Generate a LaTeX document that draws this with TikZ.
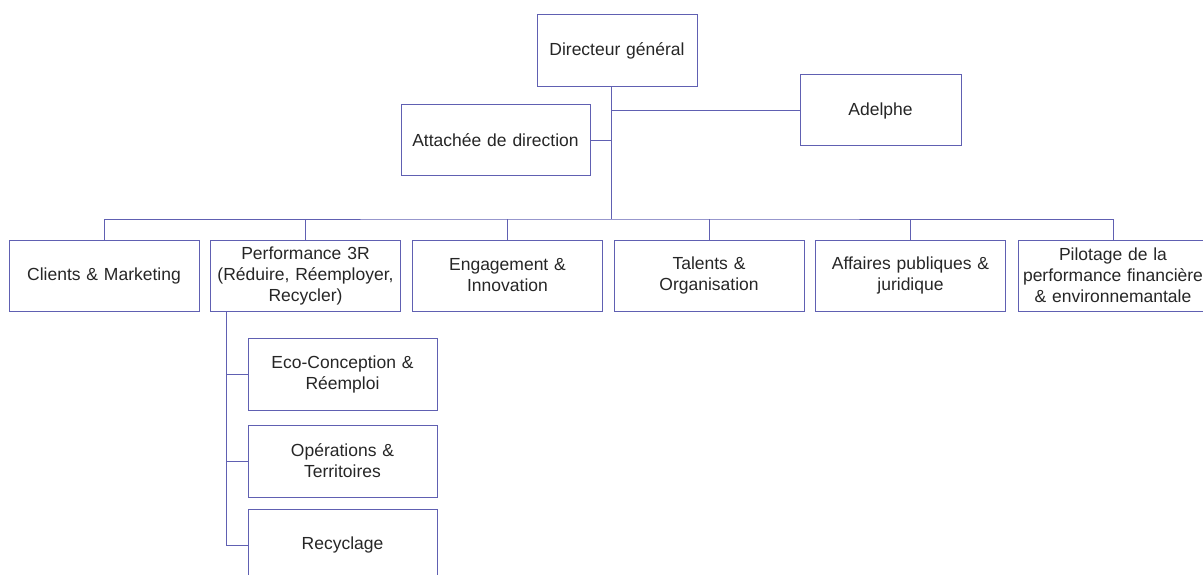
\documentclass[tikz,border=0pt]{standalone}
\usepackage{fontspec}
\setmainfont{Liberation Sans}
\definecolor{orgline}{RGB}{96,96,178}
\definecolor{orgtext}{RGB}{38,38,38}
\begin{document}
\begin{tikzpicture}
[x=1pt,y=-1pt,line width=1pt,
box/.style={draw=orgline,text=orgtext,align=center,inner sep=4pt,minimum height=71pt,
  font=\fontsize{17.5pt}{21pt}\selectfont},
unit/.style={box,text width=182pt},
link/.style={draw=orgline}]
\useasboundingbox (0,0) rectangle (1203,575);
% direction
\node[box,text width=152pt,minimum height=72pt] (dg) at (617,51) {Directeur général};
\node[box,text width=181pt] (att) at (495.5,140.5) {Attachée de direction};
\node[box,text width=153pt] (adelphe) at (880.5,110.5) {Adelphe};
% directions
\node[unit] (clients) at (104,275.5) {Clients \& Marketing};
\node[unit] (perf) at (305.5,275.5) {Performance 3R\\(Réduire, Réemployer,\\Recycler)};
\node[unit] (engage) at (507.5,275.5) {Engagement \&\\Innovation};
\node[unit] (talents) at (709,275.5) {Talents \&\\Organisation};
\node[unit] (affaires) at (910.5,275.5) {Affaires publiques \&\\juridique};
\node[unit] (pilotage) at (1113,275.5) {Pilotage de la\\performance financière\\\& environnemantale};
% poles
\node[box,text width=181pt,minimum height=72pt] (eco) at (342.5,374) {Eco-Conception \&\\Réemploi};
\node[box,text width=181pt,minimum height=72pt] (ops) at (342.5,461) {Opérations \&\\Territoires};
\node[box,text width=181pt,minimum height=72pt] (recy) at (342.5,545) {Recyclage};
\coordinate (trunk) at (611,219);
\coordinate (spine) at (226,546);
\draw[link] (dg.south -| trunk) -- (trunk);
\draw[link] (att.east) -- (att.east -| trunk);
\draw[link] (adelphe.west) -- (adelphe.west -| trunk);
\draw[link] (clients.north) |- (trunk) -| (pilotage.north);
\foreach \unitname in {perf,engage,talents,affaires}
  \draw[link] (\unitname.north) -- (\unitname.north |- trunk);
\draw[link] (perf.south -| spine) -- (spine);
\foreach \pole in {eco,ops,recy}
  \draw[link] (\pole.west) -- (\pole.west -| spine);
\end{tikzpicture}
\end{document}
